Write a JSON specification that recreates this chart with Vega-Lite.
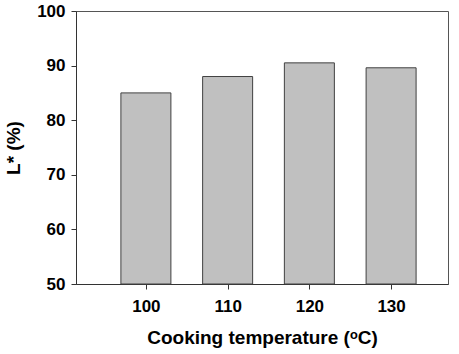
{
  "$schema": "https://vega.github.io/schema/vega-lite/v6.json",
  "width": 372,
  "height": 273,
  "autosize": {"type": "none"},
  "padding": {"left": 76, "top": 11, "right": 11, "bottom": 70},
  "background": "white",
  "config": {
    "view": {"stroke": "#555555", "strokeWidth": 1},
    "font": "Liberation Sans",
    "axis": {"grid": false, "domainColor": "#333333", "tickColor": "#333333", "labelColor": "black", "titleColor": "black", "labelFont": "Liberation Sans", "titleFont": "Liberation Sans", "labelFontWeight": "bold", "titleFontWeight": "bold"}
  },
  "data": {"values": [
    {"temp": 100, "L": 85.0},
    {"temp": 110, "L": 88.0},
    {"temp": 120, "L": 90.5},
    {"temp": 130, "L": 89.6}
  ]},
  "mark": {"type": "bar", "size": 50, "fill": "#c0c0c0", "stroke": "#404040", "strokeWidth": 1},
  "encoding": {
    "x": {"field": "temp", "type": "quantitative",
      "scale": {"domain": [92.06, 136.35], "nice": false, "zero": false},
      "axis": {"values": [100, 110, 120, 130], "tickSize": 5, "labelPadding": 9, "labelFontSize": 17, "title": "Cooking temperature (ᵒC)", "titleFontSize": 19, "titlePadding": 14}},
    "y": {"field": "L", "type": "quantitative",
      "scale": {"domain": [50, 100], "nice": false, "zero": false},
      "axis": {"values": [50, 60, 70, 80, 90, 100], "tickSize": 5, "labelPadding": 6, "labelFontSize": 17, "title": "L* (%)", "titleFontSize": 19, "titlePadding": 13}},
    "y2": {"datum": 50}
  }
}
